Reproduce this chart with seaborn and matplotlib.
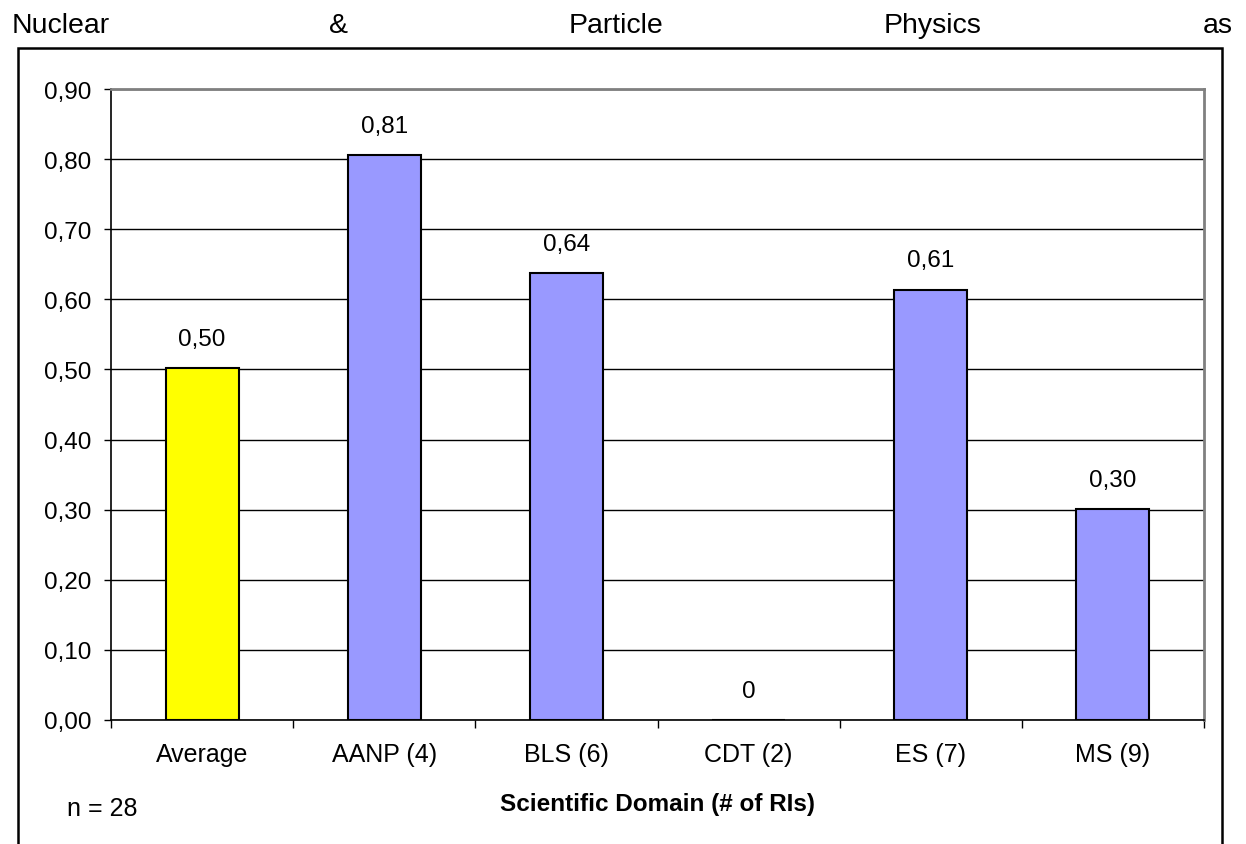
import matplotlib
matplotlib.use("Agg")
import matplotlib.pyplot as plt
import seaborn as sns
import pandas as pd
from matplotlib.patches import Rectangle
from matplotlib.ticker import FixedLocator

categories = ["Average", "AANP (4)", "BLS (6)", "CDT (2)", "ES (7)", "MS (9)"]
values = [0.502, 0.806, 0.637, 0.0, 0.614, 0.301]
labels = ["0,50", "0,81", "0,64", "0", "0,61", "0,30"]
colors = ["#FFFF00", "#9999FF", "#9999FF", "#9999FF", "#9999FF", "#9999FF"]
yticks = [0.0, 0.1, 0.2, 0.3, 0.4, 0.5, 0.6, 0.7, 0.8, 0.9]
title_words = ["Nuclear", "&", "Particle", "Physics", "as"]

sns.set_theme(style="white")
plt.rcParams["font.family"] = ["Liberation Sans", "DejaVu Sans"]
plt.rcParams["text.color"] = "black"
plt.rcParams["xtick.color"] = "black"
plt.rcParams["ytick.color"] = "black"
plt.rcParams["axes.labelcolor"] = "black"

df = pd.DataFrame({"cat": categories, "val": values})

fig = plt.figure(figsize=(12.46, 8.45), dpi=100)
ax = fig.add_axes([111/1246, 1-721/845, (1204-111)/1246, (721-90)/845])

sns.barplot(data=df, x="cat", y="val", hue="cat", palette=colors, order=categories,
            hue_order=categories, width=0.4, edgecolor="black", linewidth=1.5,
            saturation=1, legend=False, ax=ax, zorder=3)

ax.set_xlim(-0.5, len(categories) - 0.5)
ax.set_ylim(0, 0.9)
ax.set_yticks(yticks)
ax.set_yticklabels([f"{t:.2f}".replace(".", ",") for t in yticks], fontsize=17.5)
ax.yaxis.grid(True, color="black", linewidth=1.0, zorder=0)
ax.set_axisbelow(True)

ax.set_xticks(range(len(categories)))
ax.set_xticklabels(categories, fontsize=18)
ax.tick_params(axis="x", which="major", length=0, pad=16)
ax.xaxis.set_minor_locator(FixedLocator([i - 0.5 for i in range(len(categories) + 1)]))
ax.tick_params(axis="x", which="minor", length=6, width=1, color="black", direction="out", bottom=True)
ax.tick_params(axis="y", length=5, width=1, color="black", direction="out", left=True, pad=9)

for s in ["left", "bottom"]:
    ax.spines[s].set_color("black")
    ax.spines[s].set_linewidth(1.2)
for s in ["top", "right"]:
    ax.spines[s].set_color("#808080")
    ax.spines[s].set_linewidth(2)

for i, (v, lab) in enumerate(zip(values, labels)):
    ax.annotate(lab, (i, v), xytext=(0, 21), textcoords="offset points",
                ha="center", va="center", fontsize=17.5)

ax.set_xlabel("")
ax.set_ylabel("")
fig.text(658/1246, 1-805/845, "Scientific Domain (# of RIs)", fontsize=17.5,
         fontweight="bold", ha="center", va="center")

fig.text(67/1246, 1-809/845, "n = 28", fontsize=18, ha="left", va="center")

xs = [12, 339, 616, 933, 1233]
has = ["left", "center", "center", "center", "right"]
for w, x, h in zip(title_words, xs, has):
    fig.text(x/1246, 1-33/845, w, fontsize=20.5, ha=h, va="baseline")

fig.patches.append(Rectangle((18/1246, -0.02), (1222-18)/1246, 1-49/845 + 0.02,
                             transform=fig.transFigure, fill=False,
                             edgecolor="black", linewidth=1.8))

fig.savefig("out.png", dpi=100)
